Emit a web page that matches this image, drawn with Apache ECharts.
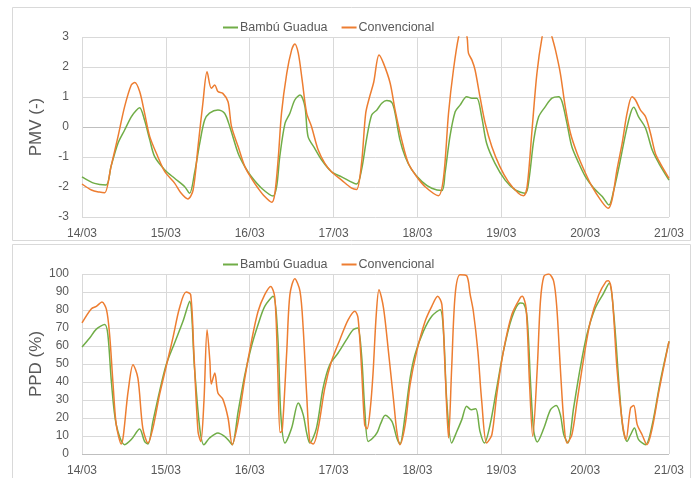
<!DOCTYPE html>
<html>
<head>
<meta charset="utf-8">
<script src="https://cdn.jsdelivr.net/npm/echarts@6/dist/echarts.min.js"></script>
<style>html,body{margin:0;padding:0;background:#fff}#c{width:698px;height:478px}</style>
</head>
<body>
<div id="c"></div>
<script>
// hours since 14/03 00:00
var dayLabels = ["14/03","15/03","16/03","17/03","18/03","19/03","20/03","21/03"];
var seriesNames = ["Bambú Guadua","Convencional"];

var pmvBambu = [[0,-1.66],[3.6,-1.88],[6.9,-1.93],[8.3,-1.32],[10.3,-0.54],[12.2,-0.1],[14.1,0.34],[15.5,0.55],[16.5,0.64],[17.9,0.23],[19.4,-0.43],[20.8,-0.99],[23.7,-1.43],[26.5,-1.71],[29.4,-1.99],[30.8,-2.21],[32.2,-1.54],[33.7,-0.54],[35.1,0.23],[36.5,0.46],[38.9,0.57],[40.8,0.46],[42.3,0.01],[44.7,-0.88],[46.6,-1.32],[48.5,-1.66],[51.4,-2.04],[54.7,-2.3],[55.7,-1.99],[56.6,-0.99],[58.1,0.12],[59.5,0.46],[60.9,0.9],[62.4,1.07],[63.8,0.68],[64.7,-0.32],[66.6,-0.71],[68.6,-1.1],[71.4,-1.49],[74.3,-1.66],[78.6,-1.9],[80,-1.43],[81.4,-0.43],[82.9,0.4],[84.4,0.57],[85.8,0.79],[87.2,0.88],[88.7,0.81],[89.6,0.46],[91,-0.43],[92.5,-0.99],[94.4,-1.43],[97.3,-1.82],[100.1,-2.04],[103,-2.12],[103.9,-1.54],[105.3,-0.32],[106.8,0.51],[108.2,0.73],[110.1,1.01],[111.6,0.96],[113,0.96],[114.4,0.34],[115.8,-0.54],[118.2,-1.21],[121.1,-1.77],[124,-2.1],[126.9,-2.21],[127.9,-1.77],[129.3,-0.43],[130.7,0.34],[132.6,0.68],[134.5,0.96],[136.4,1.01],[137.4,0.84],[138.8,0.12],[140.2,-0.66],[142.2,-1.21],[144.1,-1.66],[146.5,-2.04],[148.9,-2.32],[150.8,-2.6],[152.2,-2.1],[153.7,-1.32],[155.6,-0.21],[157,0.46],[157.9,0.66],[159.3,0.34],[161.3,-0.04],[163.2,-0.77],[165.1,-1.21],[168,-1.77]];

var pmvConv = [[0,-1.9],[2.7,-2.1],[5,-2.17],[6.5,-2.19],[8.3,-1.32],[10.3,-0.32],[12.2,0.68],[14.1,1.4],[15.1,1.48],[16.5,1.18],[17.9,0.47],[19.4,-0.32],[21.7,-0.99],[23.7,-1.49],[26.5,-1.87],[28.4,-2.21],[30.3,-2.4],[31.8,-2.1],[33.2,-0.66],[34.6,0.8],[35.8,1.84],[37,1.29],[38,1.4],[38.9,1.18],[40.3,1.12],[41.8,0.84],[42.8,0.01],[44.7,-0.66],[46.6,-1.32],[48.5,-1.71],[50.4,-2.04],[52.3,-2.32],[54.3,-2.51],[55.2,-2.21],[56.2,-0.99],[57.1,0.46],[58.6,1.79],[60,2.57],[60.9,2.77],[61.9,2.46],[63,1.57],[64.3,0.46],[65.7,0.01],[67.6,-0.77],[69.5,-1.21],[71.4,-1.49],[74.3,-1.77],[77.2,-2.04],[78.6,-2.08],[80,-1.21],[81.2,0.46],[82.3,1.0],[83.5,1.5],[85,2.4],[86.3,2.12],[88.2,1.46],[89.6,0.57],[91.5,-0.43],[93.4,-1.21],[95.8,-1.66],[98.2,-1.99],[102,-2.29],[103.5,-1.66],[104.9,0.46],[106.3,1.9],[107.8,3.01],[109,3.4],[110.2,3.0],[110.6,2.46],[111.6,2.23],[112.5,1.9],[113.9,1.01],[115.4,0.12],[117.3,-0.66],[119.6,-1.32],[122,-1.82],[124.9,-2.21],[126.4,-2.29],[127.4,-1.99],[128.8,-0.1],[130.2,1.79],[131.7,3.01],[133,3.6],[134.5,3.01],[135.5,2.57],[136.9,1.79],[138.3,0.68],[139.8,-0.21],[141.7,-0.88],[144.1,-1.54],[146,-1.99],[148.4,-2.43],[150.6,-2.71],[151.7,-2.43],[153.1,-1.43],[154.6,-0.54],[156,0.46],[157.4,1.01],[158.4,0.9],[159.8,0.57],[161.3,0.34],[162.7,-0.21],[164.1,-0.88],[165.5,-1.21],[168,-1.71]];

var ppdBambu = [[0,59.4],[2.2,64.4],[4.1,69.4],[6.5,71.9],[7.4,66.3],[8.4,40.4],[9.8,16.3],[12.2,5.2],[14.1,8],[16.5,13.9],[17.9,7],[18.9,5.6],[20.3,18.1],[22.2,34.8],[24.1,49.6],[26.5,61.7],[28.9,73.7],[30.8,84.8],[32.2,47.8],[33.7,14.4],[34.9,5.2],[36.5,8.9],[38.9,11.7],[40.8,9.8],[42.2,7],[43,5.2],[44.7,23.7],[46.6,44],[48.5,59.8],[50.4,71.9],[52.3,82],[54.7,87.6],[56,66.3],[56.9,21.9],[58.1,6.1],[60,14.4],[61.9,28.3],[63.3,21.9],[64.3,11.7],[65.2,6.1],[67.1,14.4],[69,36.7],[70.9,49.6],[73.3,56.1],[75.7,63.5],[77.6,69],[78.9,70],[80,55.2],[80.9,25.6],[81.9,7],[83.3,9],[84.5,12],[85.5,17],[86.8,21.5],[88.7,18.1],[90.1,8.9],[91,5.6],[92.5,21.9],[93.9,42.2],[95.3,55.2],[97.7,68.1],[100.1,76.5],[102.5,80.2],[103.5,66.3],[104.4,29.3],[105.8,6.1],[107.3,12.6],[108.7,19.1],[110.1,26.5],[111.4,24.6],[112.7,25.2],[113.9,12.6],[115.2,6.1],[116.8,16.3],[118.7,36.7],[120.6,57],[123,75.6],[125.4,83.9],[126.4,83.5],[127.4,75.6],[128.4,38.5],[129.3,12.6],[130.3,6.7],[132.2,14.4],[134.1,24.6],[135.7,26.9],[136.9,21.9],[137.9,10.7],[139.1,6.1],[140.7,25.6],[142.6,47.8],[144.5,66.3],[146.9,81.1],[149.3,89.4],[150.9,95],[152.2,77.4],[153.7,38.5],[154.8,14.4],[156,7],[157,10.7],[158.1,14.4],[159.3,8],[161.3,5.2],[163.2,16.3],[165.5,40.4],[168,62.6]];

var ppdConv = [[0,72.8],[2.7,80.7],[4.1,82],[5.7,84.4],[7,80.2],[7.9,66.3],[8.9,38.5],[9.8,16.3],[11.2,5.5],[13.2,34.8],[14.6,49.6],[16,42.2],[17.4,14.4],[18.9,6.1],[20.3,14.4],[22.2,33],[24.1,48.7],[26,64.4],[27.9,81.1],[29.8,90],[31.1,88.5],[32,57],[33.2,12.6],[34,7],[34.9,29.3],[35.8,69],[36.6,51.5],[37,38.9],[38,45],[38.9,33.9],[40.3,30.5],[41.8,20],[43,5.2],[44.7,18.1],[46.6,42.2],[48.5,62.6],[50.4,79.3],[52.3,88.5],[54,93.1],[55.2,86.7],[56,47.8],[56.7,12],[57.3,13],[58.6,57],[59.5,88.5],[60.9,97.4],[62.4,90.4],[63.3,70],[64.3,33],[65.2,7],[66.2,5.6],[67.6,14.4],[69.5,36.7],[71.4,51.5],[73.8,63.5],[76.2,74.6],[78.1,79.3],[79,75.6],[80,47.8],[80.9,16.3],[81.6,14],[82.5,25],[83.3,45],[84.2,77],[85,91.3],[86.3,81.1],[87.7,57],[89.2,29.3],[90.1,12.6],[91,5.2],[92.5,16.3],[93.9,38.5],[95.8,57],[98.2,73.7],[100.1,82],[101.8,87.6],[103,83],[103.9,47.8],[104.9,8.9],[105.8,47.8],[106.8,88.5],[108.2,99.6],[110.1,99],[111.1,88.5],[112,79.3],[113.3,57],[114.4,29.3],[115.8,6.1],[117.3,10.7],[118.7,33],[120.6,57],[123,77.4],[125.4,86.7],[126,87.6],[127.1,81.1],[128.1,38.5],[129,9.8],[130.3,47.8],[131.2,84.8],[132.2,98.7],[133.6,100],[135,95.9],[135.9,81.1],[136.9,47.8],[137.9,18.1],[138.8,6.1],[140.2,10.7],[141.7,29.3],[143.6,53.3],[145.5,73.7],[147.9,88.5],[150,95.9],[150.7,96.3],[151.7,88.5],[153.1,47.8],[154.6,18.1],[155.7,8],[157,25.6],[157.9,26.9],[158.9,16.3],[160.3,10.7],[161.7,5.2],[163.2,14.4],[165.1,34.8],[168,62.6]];

var GREEN = '#70ad47', ORANGE = '#ed7d31';
var TXT = '#595959', GRID = '#d9d9d9', AXIS = '#bfbfbf';
var FONT = 'Liberation Sans, Arial, sans-serif';

function xAx(gi) {
  return {
    type: 'value', gridIndex: gi, min: 0, max: 168, interval: 24,
    axisLine: { show: false }, axisTick: { show: false },
    axisLabel: { color: TXT, fontSize: 12, fontFamily: FONT, margin: 11,
      formatter: function (v) { return dayLabels[Math.round(v / 24)]; } },
    splitLine: { show: true, lineStyle: { color: GRID, width: 1 } }
  };
}
function yAx(gi, min, max, interval, name, colors) {
  return {
    type: 'value', gridIndex: gi, min: min, max: max, interval: interval,
    name: name, nameLocation: 'middle', nameGap: 37, nameMoveOverlap: false,
    nameTextStyle: { color: TXT, fontSize: 17, fontFamily: FONT },
    axisLine: { show: false }, axisTick: { show: false },
    axisLabel: { color: TXT, fontSize: 12, fontFamily: FONT, margin: 13 },
    splitLine: { show: true, lineStyle: { color: colors, width: 1 } }
  };
}
function line(name, data, color, xi, yi) {
  return {
    name: name, type: 'line', data: data, xAxisIndex: xi, yAxisIndex: yi,
    showSymbol: false, symbol: 'none', smooth: 0.3,
    lineStyle: { color: color, width: 1.5 }, itemStyle: { color: color },
    clip: true, animation: false
  };
}
function legend(top) {
  return {
    data: seriesNames, left: 218, top: top, icon: 'rect', itemWidth: 15, itemHeight: 2,
    itemGap: 14, textStyle: { color: TXT, fontSize: 12.5, fontFamily: FONT, padding: [0, 0, 0, -3] },
    selectedMode: false
  };
}

var topColors = [GRID, GRID, GRID, AXIS, GRID, GRID, GRID];
var botColors = [AXIS, GRID, GRID, GRID, GRID, GRID, GRID, GRID, GRID, GRID, GRID];

var chart = echarts.init(document.getElementById('c'), null, { renderer: 'canvas' });
chart.setOption({
  animation: false,
  backgroundColor: '#ffffff',
  graphic: [
    { type: 'rect', shape: { x: 12.5, y: 7.5, width: 678, height: 233 }, style: { fill: 'none', stroke: GRID, lineWidth: 1 }, z: -1 },
    { type: 'rect', shape: { x: 12.5, y: 244.5, width: 678, height: 240 }, style: { fill: 'none', stroke: GRID, lineWidth: 1 }, z: -1 }
  ],
  legend: [legend(16), legend(253)],
  grid: [
    { left: 82, right: 29, top: 37, height: 180 },
    { left: 82, right: 29, top: 274, height: 180 }
  ],
  xAxis: [xAx(0), xAx(1)],
  yAxis: [yAx(0, -3, 3, 1, 'PMV (-)', topColors), yAx(1, 0, 100, 10, 'PPD (%)', botColors)],
  series: [
    line(seriesNames[0], pmvBambu, GREEN, 0, 0),
    line(seriesNames[1], pmvConv, ORANGE, 0, 0),
    line(seriesNames[0], ppdBambu, GREEN, 1, 1),
    line(seriesNames[1], ppdConv, ORANGE, 1, 1)
  ]
});
</script>
</body>
</html>
